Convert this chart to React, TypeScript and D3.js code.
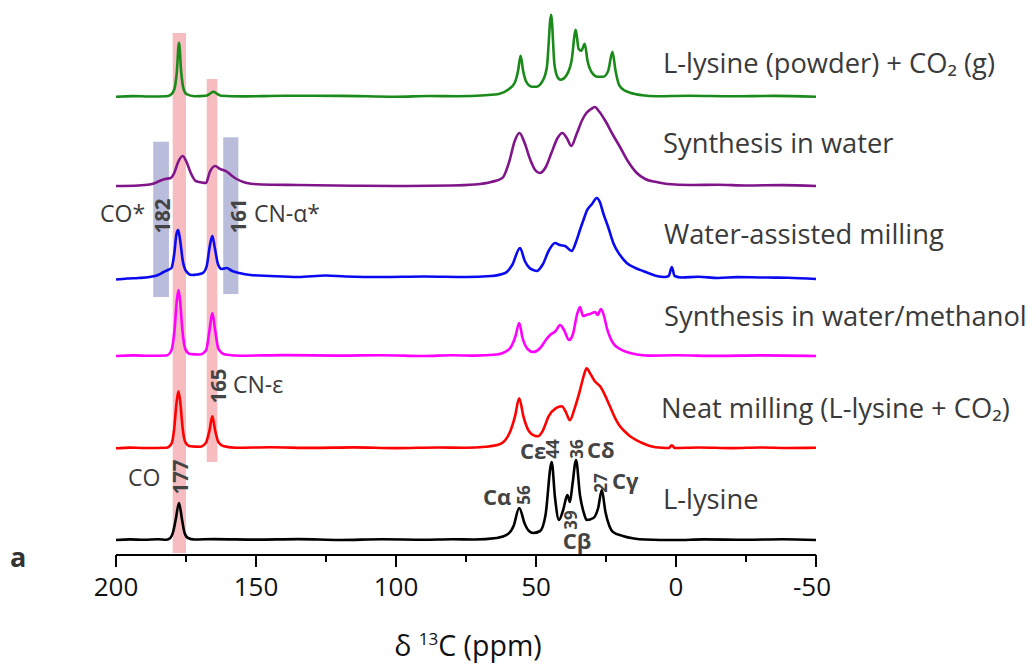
import React from 'react';
import * as d3 from 'd3';

type Pt = [number, number];

// ---------- DATA ----------
const ppmRange: [number, number] = [200, -50];
const minorTicks = [200, 175, 150, 125, 100, 75, 50, 25, 0, -25, -50];
const tickLabels = [200, 150, 100, 50, 0, -50];

const seriesNames = [
  'L-lysine',
  'Neat milling (L-lysine + CO₂)',
  'Synthesis in water/methanol',
  'Water-assisted milling',
  'Synthesis in water',
  'L-lysine (powder) + CO₂ (g)',
];
const seriesColors = ['#000000', '#ff0000', '#ff00ff', '#0a0af0', '#80158a', '#1a8a1a'];
const seriesOffsets = [0, 91.7, 184, 262, 354, 443.3];

const lysine: Pt[] = [
  [200, 0], [195, 0.6], [190, 0.2], [185, 0.7], [182, 0.3], [180.6, 2], [179.6, 8], [178.7, 20], [177.5, 37], [176.4, 20], [175.5, 7], [174.3, 2], [172, 0.5],
  [165, 0.9], [150, 0.4], [135, 0.9], [120, 0], [105, 0.7], [90, 0.3], [80, 0.8], [72, 0.5], [64, 2], [60, 6], [58, 14], [56, 32], [54, 16], [52.5, 9], [51, 7], [48.5, 9],
  [46.6, 25], [44.4, 78], [43.2, 42], [41.8, 20], [40.3, 30], [38.8, 45], [37.9, 38], [37, 55], [35.7, 80], [34.3, 45],
  [32.8, 26], [31.9, 20], [29.5, 22], [27.8, 32], [26.5, 50], [25.2, 28], [23.8, 14], [22.5, 8], [19, 4], [15, 1.5], [11, 0.5], [0, 0], [-10, 0.6], [-25, 0.2], [-38, 0.7], [-50, 0],
];

const neatMilling: Pt[] = [
  [200, 0], [195, 0.7], [190, 0.3], [182, 0.6], [180.3, 4], [179.2, 20], [178.4, 45], [177.7, 57], [177, 45], [176.2, 20], [175.2, 6], [173.5, 2],
  [170, 1.5], [168, 5], [166.6, 18], [165.6, 32], [164.6, 18], [163.4, 6], [161.5, 2], [157, 0.5], [145, 1], [130, 0.4], [115, 0.9], [100, 0.2],
  [85, 0.8], [75, 0.5], [68, 1.5], [63, 4], [59.5, 15], [57.5, 32], [56, 50], [54.5, 32], [52.5, 17], [50.5, 12.5], [49.3, 12],
  [47.5, 18], [45.5, 32], [43, 40], [40.8, 42], [39.3, 36], [37.9, 28], [36.2, 40], [34.3, 58], [32.8, 74], [31.9, 80],
  [30.7, 75], [29, 67], [27.1, 62], [25.5, 54], [23.6, 42], [21.5, 29], [20, 22], [18, 16], [16.4, 12], [14, 8], [11, 4],
  [9, 2], [5, 0.5], [2.6, 0.3], [1.5, 3], [0.4, 0.3], [-8, 0.8], [-20, 0.2], [-30, 0.8], [-40, 0.3], [-50, 0.5],
];

const waterMethanol: Pt[] = [
  [200, 0], [194, 0.6], [188, 0.2], [182, 0.5], [180.3, 5], [179.1, 26], [178.3, 55], [177.7, 66], [177.1, 55], [176.3, 26], [175.1, 6], [173.5, 2],
  [170, 1.5], [167.8, 6], [166.6, 26], [165.6, 43], [164.6, 26], [163.4, 7], [161, 1.5], [155, 0.3], [140, 0.9], [120, 0.4], [105, 0.8], [90, 0],
  [80, 0.7], [72, 0.4], [64, 1.5], [59.5, 7], [57.3, 20], [56, 33], [54.8, 18], [53, 7], [51, 4], [48.5, 8], [46.5, 16], [45, 21],
  [43, 25], [41.4, 31], [40, 26], [38.2, 16], [36.8, 22], [35.3, 42], [34.3, 49], [33.2, 40], [32, 41], [30.7, 42],
  [28.9, 44], [28, 41], [26.8, 47], [25.7, 40], [24.8, 29], [23.6, 19], [22.5, 13], [20, 7], [17.6, 4], [14, 1.5], [10, 0.4], [0, 0.7], [-15, 0.1], [-30, 0.6], [-50, 0],
];

const waterMilling: Pt[] = [
  [200, -1.5], [196, -0.5], [192, 0], [188, 1], [185, 3], [183, 6], [181.5, 8], [180.2, 10], [179.2, 24], [178.4, 44], [177.8, 48],
  [177.1, 38], [176.2, 18], [175, 7], [173, 3], [171, 3.5], [169, 5], [167.6, 12], [166.5, 32], [165.6, 42], [164.7, 30],
  [163.6, 14], [162.3, 9], [160.5, 10], [158.5, 7], [156, 5], [152, 3], [145, 2], [135, 1], [125, 2.5], [118, 1.5],
  [105, 1], [90, 1.5], [75, 1], [66, 2], [61, 5], [58.5, 13], [55.7, 30], [54, 17], [52.3, 10], [51, 8], [49.8, 7],
  [47.5, 14], [45.5, 27], [43.2, 35], [41.5, 33], [39.6, 32], [37.3, 27], [35.6, 37], [34.3, 48], [32.8, 60], [31.9, 67],
  [30, 74], [28.3, 80], [27.2, 76], [26, 65], [24, 49], [22.4, 35], [20, 23], [17.6, 15], [14.5, 10], [11.8, 7], [9, 4],
  [6.9, 2], [4, 1], [2.6, 2], [1.5, 11], [0.5, 2], [-2, 0.5], [-8, 1.2], [-15, 0], [-22, 0.9], [-30, 0.5], [-40, 0.3], [-50, -1],
];

const waterSynthesis: Pt[] = [
  [200, 0], [192, 0.5], [188, 1.5], [186.5, 2.5], [184.5, 5], [182.5, 7], [180.5, 8], [179.2, 13], [177.8, 24], [176.2, 30],
  [174.8, 24], [173.3, 13], [171.5, 5], [169.5, 3.5], [167.9, 3], [166.5, 14], [164.6, 20], [162.8, 17], [160.5, 14.5],
  [158.5, 10], [156.9, 7], [153.3, 3], [148, 1.5], [135, 1], [115, 0.3], [100, 0], [80, 0.5], [72, 1.5], [66, 4], [62, 8],
  [59.5, 25], [57.6, 45], [55.9, 53], [54.2, 44], [52, 26], [50.3, 16], [48.7, 13], [46.5, 19], [44.5, 33], [42.3, 48],
  [40.6, 53], [39, 48], [37.4, 40], [35.5, 52], [33.5, 66], [32, 73], [30.3, 77], [29, 79], [27.3, 74], [25, 64],
  [22.5, 51], [20, 39], [17, 24], [14, 13], [11, 7], [7, 4], [3, 2], [-5, 1], [-15, 1.3], [-25, 0.5], [-38, 0.9], [-50, 0],
];

const powderCO2: Pt[] = [
  [200, 0], [194, 0.6], [188, 0.2], [182, 0.5], [180.2, 2.5], [179.1, 8], [178.3, 24], [177.5, 54], [176.7, 24], [175.9, 8], [174.8, 2.5], [172, 0.5],
  [168, 1], [166.4, 3], [165.2, 5], [164, 3], [162.5, 1], [155, 0.3], [140, 0.9], [120, 0.8], [100, 0], [88, 0.7], [78, 0.5], [68, 1.5], [63, 3],
  [60, 7], [57.6, 14], [56.4, 26], [55.5, 41], [54.6, 26], [53.5, 15], [51.5, 10], [49.8, 10], [47.6, 16], [46.1, 30],
  [44.6, 82], [43.4, 32], [42.2, 19], [41.2, 17], [39, 22], [37.3, 36], [35.8, 67], [34.8, 48], [33.8, 46], [32.6, 53],
  [31.6, 36], [30, 24], [28, 20], [26, 20], [24.2, 26], [22.7, 45], [21.6, 26], [20.2, 11], [18.2, 6], [16.4, 4],
  [12, 1.5], [7, 0.5], [-5, 0.9], [-20, 0.4], [-35, 0.8], [-50, 0],
];

const seriesData: Pt[][] = [lysine, neatMilling, waterMethanol, waterMilling, waterSynthesis, powderCO2];

// highlighted ppm windows
const pinkBands: [number, number][] = [[179.75, 175.0], [167.6, 163.8]];
const blueBands: [number, number][] = [[186.7, 181.1], [161.7, 156.3]];

const rotatedPeakLabels = ['177', '165', '182', '161', '56', '44', '36', '27', '39'];
const groupLabels = ['CO', 'CN-ε', 'CO*', 'CN-α*'];
const carbonLabels = ['Cα', 'Cε', 'Cδ', 'Cγ', 'Cβ'];

// ---------- LAYOUT ----------
const W = 1036;
const H = 666;
const FONT = "'Open Sans', 'Noto Sans', 'DejaVu Sans', sans-serif";
const TEXT = '#3a3a3a';
const NUM = '#444444';

export default function App() {
  const x = d3.scaleLinear().domain(ppmRange).range([116, 816]);
  const y = d3.scaleLinear().domain([0, 540]).range([540, 0]);
  const axisY = 555;

  const pinkV: [number, number][] = [[33, 553], [79, 462]];
  const blueV: [number, number][] = [[141.7, 297], [137.3, 294]];

  const nameBaselines = [509, 418, 326, 244, 153, 73];
  const nameX = [663, 661, 664, 664, 663, 663];

  const rotPos: [number, number][] = [
    [180, 477], [218, 386], [162, 216], [238, 216],
    [523, 495], [552, 449], [576, 449], [600, 483], [570, 520],
  ];
  const groupPos: [number, number][] = [[128, 486], [233, 393], [100, 222], [254, 222]];
  const carbonPos: [number, number, string][] = [
    [483, 505, 'start'], [520, 459, 'start'], [587, 458, 'start'], [612, 489, 'start'], [577, 549, 'middle'],
  ];

  return (
    <svg width={W} height={H} style={{ position: 'absolute', left: 0, top: 0, background: '#fff' }} fontFamily={FONT}>
      <rect x={0} y={0} width={W} height={H} fill="#fff" />
      {/* bands */}
      {blueBands.map((b, i) => (
        <rect key={'bb' + i} x={x(b[0])} width={x(b[1]) - x(b[0])} y={blueV[i][0]} height={blueV[i][1] - blueV[i][0]} fill="#b9bcda" />
      ))}
      {pinkBands.map((b, i) => (
        <rect key={'pb' + i} x={x(b[0])} width={x(b[1]) - x(b[0])} y={pinkV[i][0]} height={pinkV[i][1] - pinkV[i][0]} fill="#f6bcc0" />
      ))}
      {/* spectra */}
      {seriesData.map((data, i) => {
        const line = d3
          .line<Pt>()
          .x((d) => x(d[0]))
          .y((d) => y(d[1] + seriesOffsets[i]))
          .curve(d3.curveMonotoneX);
        return (
          <path key={'s' + i} d={line(data) || ''} fill="none" stroke={seriesColors[i]} strokeWidth={2.6} strokeLinejoin="round" />
        );
      })}
      {/* series names */}
      {seriesNames.map((n, i) => (
        <text key={'n' + i} x={nameX[i]} y={nameBaselines[i]} fontSize={27.3} fill={TEXT}>
          {n}
        </text>
      ))}
      {/* rotated peak numbers */}
      {rotatedPeakLabels.map((t, i) => (
        <text
          key={'r' + i}
          transform={`translate(${rotPos[i][0]},${rotPos[i][1]}) rotate(-90)`}
          textAnchor="middle"
          dominantBaseline="central"
          fontSize={i < 4 ? 20.5 : 17}
          fontWeight="bold"
          fill={NUM}
        >
          {t}
        </text>
      ))}
      {groupLabels.map((t, i) => (
        <text key={'g' + i} x={groupPos[i][0]} y={groupPos[i][1]} fontSize={23} fill={TEXT}>
          {t}
        </text>
      ))}
      {carbonLabels.map((t, i) => (
        <text
          key={'c' + i}
          x={carbonPos[i][0]}
          y={carbonPos[i][1]}
          fontSize={22}
          fontWeight="bold"
          fill={NUM}
          textAnchor={carbonPos[i][2] as any}
        >
          {t}
        </text>
      ))}
      {/* axis */}
      <line x1={x(ppmRange[0])} x2={x(ppmRange[1])} y1={axisY} y2={axisY} stroke="#000" strokeWidth={2} />
      {minorTicks.map((t) => {
        const major = t % 50 === 0;
        return (
          <line key={'t' + t} x1={x(t)} x2={x(t)} y1={axisY} y2={axisY + (major ? 12 : 7)} stroke="#000" strokeWidth={2} />
        );
      })}
      {tickLabels.map((t) => (
        <text key={'tl' + t} x={x(t) + (t < 0 ? -4 : 0)} y={596} textAnchor="middle" fontSize={26} fill="#111">
          {String(t)}
        </text>
      ))}
      <text x={468} y={656} textAnchor="middle" fontSize={28.5} fill="#111">
        <tspan>δ </tspan>
        <tspan fontSize={17} dy={-11}>13</tspan>
        <tspan dy={11}>C (ppm)</tspan>
      </text>
      <text x={10} y={567} fontSize={27} fontWeight="bold" fill="#333">
        a
      </text>
    </svg>
  );
}
